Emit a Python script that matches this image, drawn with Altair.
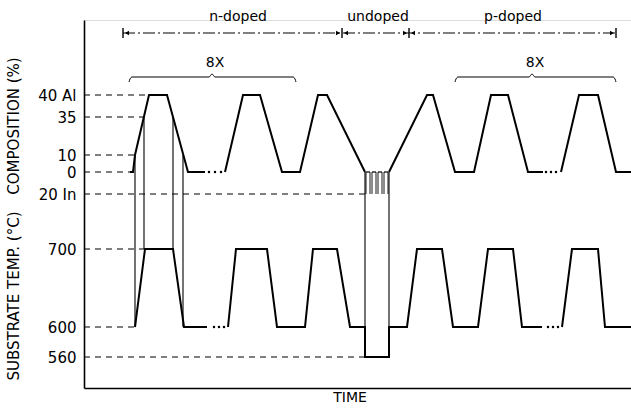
import altair as alt
import pandas as pd

FONT = "DejaVu Sans"

# ---- labelled levels of the schematic (diagram units above the time axis)
level_labels = ["40 Al", "35", "10", "0", "20 In", "700", "600", "560"]
level_pos = [293, 271, 233, 216, 194, 139, 61, 31]
comp_keys = [40, 35, 10, 0, -20]          # -20 stands for "20 In"
temp_keys = [700, 600, 560]
comp_pos = dict(zip(comp_keys, level_pos[:5]))
temp_pos = dict(zip(temp_keys, level_pos[5:]))

# ---- composition trace (time, composition %), split where "..." gaps are
comp_t = [[46, 49, 51, 65, 83, 104, 121],
          [141, 159, 176, 198, 216, 234, 243, 281],
          [305, 343, 349, 371, 390, 407, 424, 444, 459],
          [477, 495, 514, 532, 547]]
comp_v = [[0, 0, 10, 40, 40, 0, 0],
          [0, 40, 40, 0, 0, 40, 40, 0],
          [0, 40, 40, 0, 0, 40, 40, 0, 0],
          [0, 40, 40, 0, 0]]

# ---- substrate temperature trace (time, deg C)
temp_t = [[51, 61, 89, 100, 123],
          [144, 152, 183, 193, 221, 229, 253, 266, 281, 281, 305, 305, 323, 333, 358, 369, 394, 404, 429, 438, 458],
          [478, 488, 514, 521, 547]]
temp_v = [[600, 700, 700, 600, 600],
          [600, 700, 700, 600, 600, 700, 700, 600, 600, 560, 560, 600, 600, 700, 700, 600, 600, 700, 700, 600, 600],
          [600, 700, 700, 600, 600]]

# ---- "..." dots
comp_dots_t = [125, 131, 137, 462, 467, 472]
temp_dots_t = [130, 135, 140, 464, 469, 474]

# ---- thin connectors between the two traces (time, from level, to level)
conn_t = [51, 60, 89, 99, 281, 305]
conn_from = [10, 35, 35, 10, 0, 0]
conn_to = [600, 700, 700, 600, 560, 560]

# ---- indium pulses during the undoped layer
pulse_start = [282, 288, 294, 300]
pulse_width = 4

# ---- dashed guides from the axis (level, end time)
guide_comp_keys = [40, 35, 10, 0, -20]
guide_comp_end = [65, 60, 51, 46, 281]
guide_temp_keys = [700, 600, 560]
guide_temp_end = [61, 51, 281]

# ---- doping regions along the top
region_names = ["n-doped", "undoped", "p-doped"]
region_bounds = [39, 258, 325, 532]
region_label_t = [154, 294, 429]
dim_y = 355

# ---- "8X" braces (start, peak, end)
brace_start = [45, 371]
brace_peak = [128, 448]
brace_end = [212, 532]
brace_label = ["8X", "8X"]

# ================= scales & axes =================
label_expr = "".join(f"datum.value == {p} ? '{l}' : " for p, l in zip(level_pos, level_labels)) + "''"
xs = alt.Scale(domain=[0, 547], nice=False, zero=False)
ys = alt.Scale(domain=[0, 368], nice=False, zero=False)
x_axis = alt.Axis(labels=False, ticks=False, grid=False, title=None, domainColor="black",
                  domainWidth=1.6, domainOpacity=1)
y_axis = alt.Axis(values=level_pos, labelExpr=label_expr, title=None, ticks=False, grid=False,
                  domainColor="black", domainWidth=1.6, domainOpacity=1, labelFont=FONT,
                  labelFontSize=15, labelColor="black", labelPadding=8, labelOverlap=False)


def X(f="t"):
    return alt.X(f"{f}:Q", scale=xs, axis=x_axis)


def Y(f="y"):
    return alt.Y(f"{f}:Q", scale=ys, axis=y_axis)


# ================= tables =================
rows = []
for i, (ts, vs) in enumerate(zip(comp_t, comp_v)):
    for j, (t, v) in enumerate(zip(ts, vs)):
        rows.append({"t": t, "y": comp_pos[v], "seg": f"c{i}", "o": j})
for i, (ts, vs) in enumerate(zip(temp_t, temp_v)):
    for j, (t, v) in enumerate(zip(ts, vs)):
        rows.append({"t": t, "y": temp_pos[v], "seg": f"s{i}", "o": j})
traces = pd.DataFrame(rows)

dots = pd.DataFrame({"t": comp_dots_t + temp_dots_t,
                     "y": [comp_pos[0]] * len(comp_dots_t) + [temp_pos[600]] * len(temp_dots_t)})

conn = pd.DataFrame({"t": conn_t,
                     "y": [comp_pos[v] for v in conn_from],
                     "y2": [temp_pos[v] for v in conn_to]})

comb_v = pd.DataFrame({"t": pulse_start + [s + pulse_width for s in pulse_start],
                       "y": comp_pos[0], "y2": comp_pos[-20]})
comb_h = pd.DataFrame({"t": pulse_start, "t2": [s + pulse_width for s in pulse_start], "y": comp_pos[0]})

guides = pd.DataFrame({"t": 0,
                       "t2": guide_comp_end + guide_temp_end,
                       "y": [comp_pos[k] for k in guide_comp_keys] + [temp_pos[k] for k in guide_temp_keys]})

dim_line = pd.DataFrame({"t": [region_bounds[0]], "t2": [region_bounds[-1]], "y": [dim_y]})
dim_ticks = pd.DataFrame({"t": region_bounds, "y": dim_y - 5, "y2": dim_y + 5})
arrow_l = pd.DataFrame({"t": [b + 4 for b in region_bounds[:-1]], "y": dim_y})
arrow_r = pd.DataFrame({"t": [b - 4 for b in region_bounds[1:]], "y": dim_y})
region_txt = pd.DataFrame({"t": region_label_t, "y": dim_y + 16, "label": region_names})

brows = []
for i, (s, p, e) in enumerate(zip(brace_start, brace_peak, brace_end)):
    base = 311
    pts = [(s, base - 5), (s + 1, base - 2), (s + 3, base), (p - 3, base), (p, base + 3),
           (p + 3, base), (e - 3, base), (e - 1, base - 2), (e, base - 5)]
    for j, (t, y) in enumerate(pts):
        brows.append({"t": t, "y": y, "seg": i, "o": j})
braces = pd.DataFrame(brows)
brace_txt = pd.DataFrame({"t": [p + 3 for p in brace_peak], "y": 325, "label": brace_label})

titles = pd.DataFrame({"t": [-70, -70], "y": [262, 92],
                       "label": ["COMPOSITION (%)", "SUBSTRATE TEMP. (°C)"]})
time_title = pd.DataFrame({"t": [266], "y": [-10], "label": ["TIME"]})

# ================= layers =================
axes_layer = alt.Chart(guides).mark_rule(color="black", strokeWidth=1.1, strokeDash=[6, 5]).encode(
    x=X(), x2="t2:Q", y=Y())

trace_layer = alt.Chart(traces).mark_line(color="black", strokeWidth=2).encode(
    x=X(), y=Y(), detail="seg:N", order="o:Q")

dots_layer = alt.Chart(dots).mark_point(filled=True, shape="circle", size=6, color="black", opacity=1).encode(
    x=X(), y=Y())

conn_layer = alt.Chart(conn).mark_rule(color="black", strokeWidth=1.1).encode(x=X(), y=Y(), y2="y2:Q")

comb_v_layer = alt.Chart(comb_v).mark_rule(color="black", strokeWidth=0.9).encode(x=X(), y=Y(), y2="y2:Q")
comb_h_layer = alt.Chart(comb_h).mark_rule(color="black", strokeWidth=1.2).encode(x=X(), x2="t2:Q", y=Y())

dim_line_layer = alt.Chart(dim_line).mark_rule(color="black", strokeWidth=1, strokeDash=[12, 3, 2, 3]).encode(
    x=X(), x2="t2:Q", y=Y())
dim_tick_layer = alt.Chart(dim_ticks).mark_rule(color="black", strokeWidth=1.4).encode(x=X(), y=Y(), y2="y2:Q")
arrow_l_layer = alt.Chart(arrow_l).mark_point(shape="triangle-left", filled=True, size=22, color="black",
                                               opacity=1).encode(x=X(), y=Y())
arrow_r_layer = alt.Chart(arrow_r).mark_point(shape="triangle-right", filled=True, size=22, color="black",
                                               opacity=1).encode(x=X(), y=Y())
region_layer = alt.Chart(region_txt).mark_text(font=FONT, fontSize=14, color="black").encode(
    x=X(), y=Y(), text="label:N")

brace_layer = alt.Chart(braces).mark_line(color="black", strokeWidth=1, interpolate="monotone").encode(
    x=X(), y=Y(), detail="seg:N", order="o:Q")
brace_txt_layer = alt.Chart(brace_txt).mark_text(font=FONT, fontSize=14, color="black").encode(
    x=X(), y=Y(), text="label:N")

title_layer = alt.Chart(titles).mark_text(font=FONT, fontSize=15, color="black", angle=270).encode(
    x=X(), y=Y(), text="label:N")
time_layer = alt.Chart(time_title).mark_text(font=FONT, fontSize=14, color="black").encode(
    x=X(), y=Y(), text="label:N")

chart = alt.layer(
    axes_layer, conn_layer, comb_v_layer, comb_h_layer, trace_layer, dots_layer,
    dim_line_layer, dim_tick_layer, arrow_l_layer, arrow_r_layer, region_layer,
    brace_layer, brace_txt_layer, title_layer, time_layer,
).properties(
    width=547, height=368,
    padding={"left": 84, "top": 20, "right": 0, "bottom": 30},
    autosize="none",
).configure_view(stroke=None).configure(background="white")

chart.save("out.html", embed_options={"renderer": "svg", "actions": False})
